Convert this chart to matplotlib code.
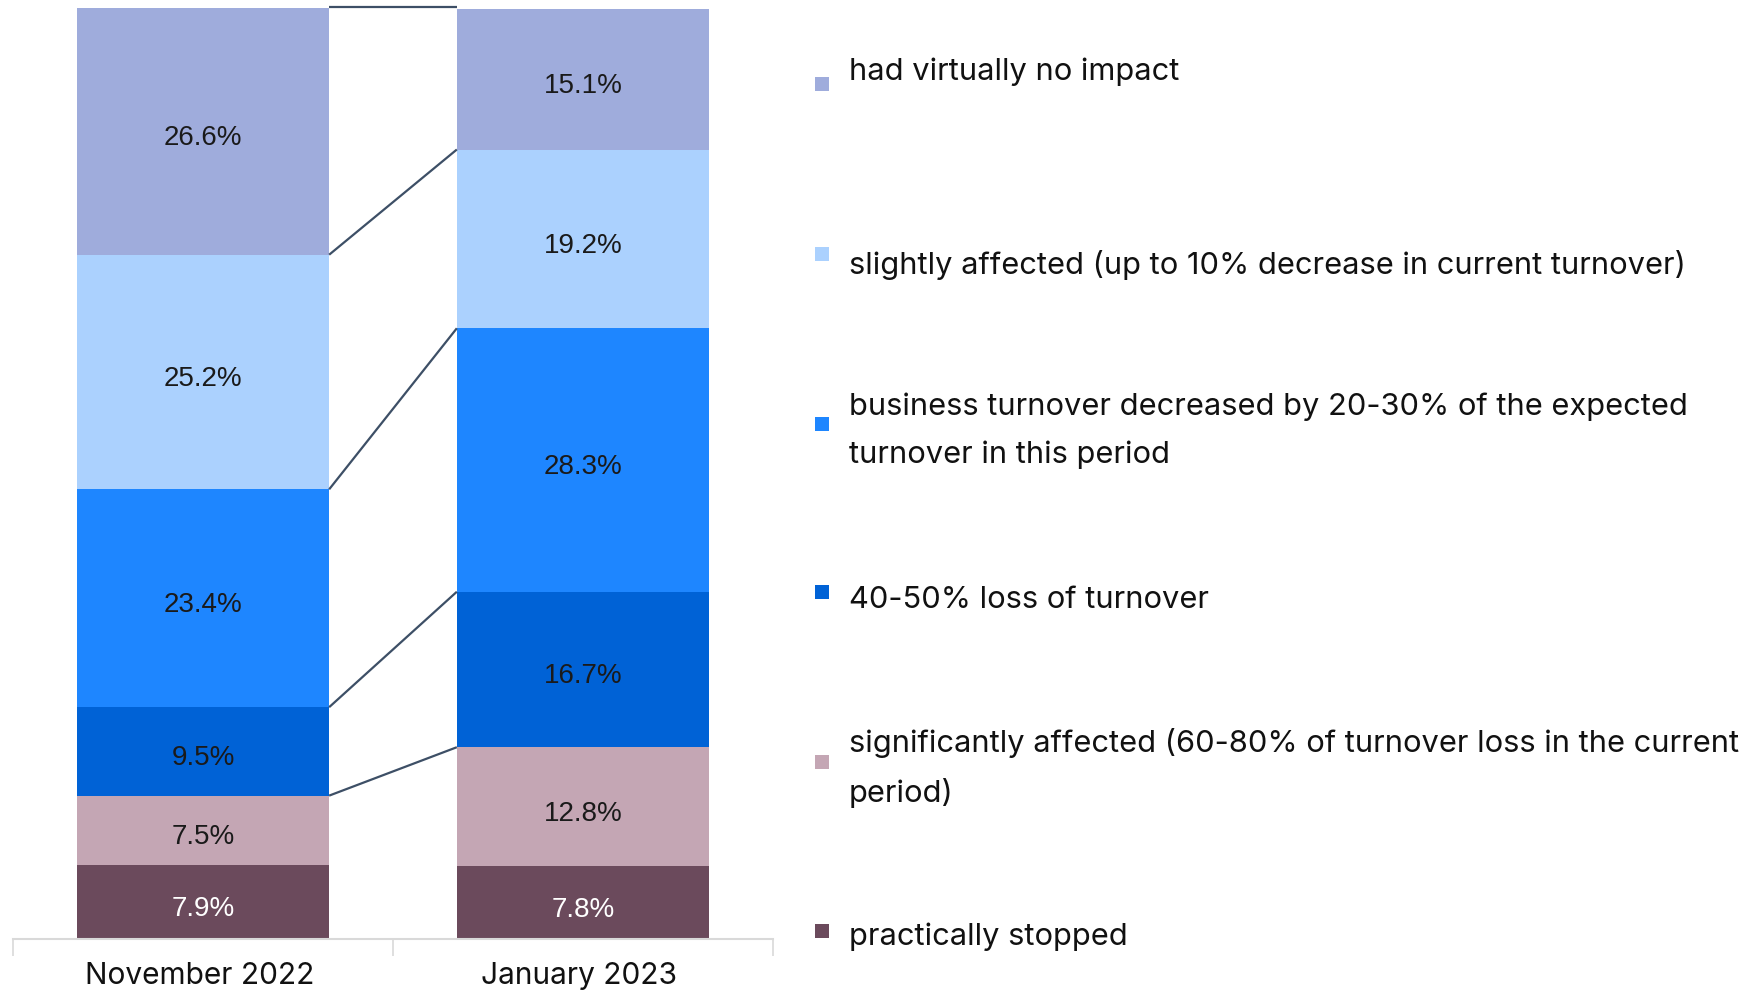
import matplotlib

matplotlib.use("Agg")
import matplotlib.pyplot as plt
from matplotlib.patches import Rectangle

# data, bottom segment first
periods = ["November 2022", "January 2023"]
categories = [
    "practically stopped",
    "significantly affected (60-80% of turnover loss in the current\nperiod)",
    "40-50% loss of turnover",
    "business turnover decreased by 20-30% of the expected\nturnover in this period",
    "slightly affected (up to 10% decrease in current turnover)",
    "had virtually no impact",
]
nov_2022 = [7.9, 7.5, 9.5, 23.4, 25.2, 26.6]
jan_2023 = [7.8, 12.8, 16.7, 28.3, 19.2, 15.1]
colors = ["#6b4a5c", "#c4a6b4", "#0062d6", "#1e86ff", "#abd1fe", "#9facdc"]

W, H = 1757, 991
fig = plt.figure(figsize=(W / 100, H / 100), dpi=100)
ax = fig.add_axes([13 / W, 1 - 939 / H, 760 / W, 931 / H])

bar_w = 0.664
series = [nov_2022, jan_2023]
bottoms = [0.0, 0.0]
tops = []  # cumulative top per category per bar
for i, cat in enumerate(categories):
    row = []
    for j in range(2):
        v = series[j][i]
        ax.bar(j, v, bar_w, bottom=bottoms[j], color=colors[i], linewidth=0)
        txt_col = "white" if i == 0 else "#1a1a1a"
        ax.annotate(f"{v:.1f}%", (j, bottoms[j] + v / 2), xytext=(0, -5),
                    textcoords="offset points", ha="center", va="center",
                    fontsize=20, color=txt_col, family="Liberation Sans")
        bottoms[j] += v
        row.append(bottoms[j])
    tops.append(row)

# connector lines between the stacks (skip the lowest boundary, like the source)
for i in range(1, len(categories)):
    ys = tops[i]
    if i == len(categories) - 1:
        ys = [max(ys)] * 2  # top edge drawn flat
    ax.plot([bar_w / 2, 1 - bar_w / 2], ys, color="#3d4f66", lw=1.6,
            solid_capstyle="butt", clip_on=False)

ax.set_xlim(-0.5, 1.5)
ax.set_ylim(0, 100)
ax.set_yticks([])
ax.set_xticks([-0.5, 0.5, 1.5])
ax.set_xticklabels([])
ax.tick_params(axis="x", length=12, color="#d9d9d9", width=1.2)
for s in ["top", "left", "right"]:
    ax.spines[s].set_visible(False)
ax.spines["bottom"].set_color("#d9d9d9")
ax.spines["bottom"].set_linewidth(1.5)
for j, p in enumerate(periods):
    ax.text(j - 0.01, -3.95, p, ha="center", va="center", fontsize=21.5,
            family="Inter", color="#111111")

# legend on the right, top entry first
text_y = [937, 768, 600, 431, 265, 72]
box_y = [931, 762, 592, 424, 254, 84]
for i, cat in enumerate(categories):
    fig.patches.append(Rectangle((815 / W, 1 - (box_y[i] + 7) / H), 14 / W, 14 / H,
                                 transform=fig.transFigure, color=colors[i], lw=0))
    fig.text(849 / W, 1 - text_y[i] / H, cat, ha="left", va="center", fontsize=22.2,
             family="Inter", color="#111111", linespacing=1.85)

fig.savefig("out.png", dpi=100)
